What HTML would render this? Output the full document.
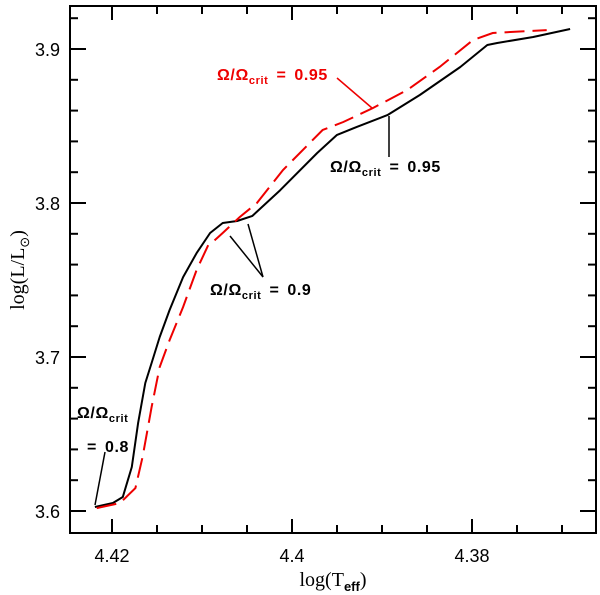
<!DOCTYPE html>
<html><head><meta charset="utf-8"><style>
html,body{margin:0;padding:0;background:#fff;}
svg{display:block;font-family:"Liberation Sans",sans-serif;}
</style></head><body>
<svg id="chart" width="600" height="595" viewBox="0 0 600 595">
<rect x="70" y="6" width="526" height="527" fill="none" stroke="#000" stroke-width="2"/>
<g id="ticks"></g>
<g id="series"></g>
<text x="333" y="586" font-size="20" font-family="Liberation Serif,serif" text-anchor="middle">log(T<tspan font-size="13" font-weight="bold" font-family="Liberation Sans,sans-serif" dy="5">eff</tspan><tspan dy="-5">)</tspan></text>
<text transform="translate(24,270) rotate(-90)" font-size="20" font-family="Liberation Serif,serif" text-anchor="middle">log(L/L<tspan font-size="13" dy="5">⊙</tspan><tspan dy="-5">)</tspan></text>
<g font-size="16" font-weight="bold" letter-spacing="0.6">
<text x="217" y="80" fill="#e00">Ω/Ω<tspan font-size="11" dy="4">crit</tspan><tspan dy="-4" dx="8">=</tspan><tspan dx="8">0.95</tspan></text>
<line x1="337" y1="78" x2="372" y2="108" stroke="#e00" stroke-width="1.5"/>
<text x="330" y="172" fill="#000">Ω/Ω<tspan font-size="11" dy="4">crit</tspan><tspan dy="-4" dx="8">=</tspan><tspan dx="8">0.95</tspan></text>
<line x1="389" y1="116" x2="389" y2="157" stroke="#000" stroke-width="1.5"/>
<text x="210" y="295" fill="#000">Ω/Ω<tspan font-size="11" dy="4">crit</tspan><tspan dy="-4" dx="8">=</tspan><tspan dx="8">0.9</tspan></text>
<line x1="263" y1="277" x2="230" y2="236" stroke="#000" stroke-width="1.5"/>
<line x1="263" y1="277" x2="248" y2="224" stroke="#000" stroke-width="1.5"/>
<text x="77" y="418" fill="#000">Ω/Ω<tspan font-size="11" dy="4">crit</tspan></text>
<text x="87" y="452" fill="#000">=<tspan dx="8">0.8</tspan></text>
<line x1="95" y1="505" x2="105" y2="452" stroke="#000" stroke-width="1.5"/>
</g>
</svg>
<script>
const blackX=[4.4219,4.4199,4.4188,4.4178,4.4171,4.4163,4.4156,4.4147,4.4136,4.4121,4.4106,4.4091,4.4077,4.4061,4.4044,4.4013,4.3972,4.3950,4.3928,4.3894,4.3858,4.3813,4.3783,4.3772,4.3732,4.3691];
const blackY=[3.6026,3.6052,3.6091,3.6286,3.6571,3.6831,3.6961,3.7130,3.7305,3.7519,3.7675,3.7805,3.7870,3.7883,3.7916,3.8084,3.8325,3.8442,3.8494,3.8571,3.8701,3.8883,3.9026,3.9039,3.9078,3.9130];
const redX=[4.4217,4.4191,4.4174,4.4166,4.4156,4.4147,4.4136,4.4121,4.4106,4.4093,4.4088,4.4077,4.4058,4.4039,4.4010,4.3966,4.3943,4.3910,4.3872,4.3836,4.3799,4.3777,4.3717];
const redY=[3.6019,3.6052,3.6149,3.6351,3.6675,3.6935,3.7110,3.7325,3.7565,3.7727,3.7747,3.7805,3.7909,3.8000,3.8214,3.8474,3.8526,3.8617,3.8734,3.8883,3.9058,3.9104,3.9123];
const xTickLabels=["4.42","4.4","4.38"];
const xTickValues=[4.42,4.40,4.38];
const yTickLabels=["3.6","3.7","3.8","3.9"];
const yTickValues=[3.6,3.7,3.8,3.9];
const NS="http://www.w3.org/2000/svg";
function sx(v){return 112+(4.42-v)*9000;}
function sy(v){return 511-(v-3.6)*1540;}
function mk(t,a){const e=document.createElementNS(NS,t);for(const k in a)e.setAttribute(k,a[k]);return e;}
const ticks=document.getElementById('ticks');
for(let i=-1;i<=11;i++){const v=4.42-i*0.005;const x=sx(v);if(x<71||x>595)continue;
 const major=i%4===0;
 const L=major?14:8;
 const t1=mk('line',{x1:x,y1:533,x2:x,y2:533-L,stroke:'#000','stroke-width':2});
 
 
 ticks.appendChild(t1);
 const t2=mk('line',{x1:x,y1:6,x2:x,y2:6+L,stroke:'#000','stroke-width':2});
 
 
 ticks.appendChild(t2);}
xTickValues.forEach((v,i)=>{const t=mk('text',{x:sx(v),y:562,'font-size':18,'text-anchor':'middle'});t.textContent=xTickLabels[i];
 
 
 ticks.appendChild(t);});
for(let i=-1;i<=17;i++){const v=3.6+i*0.02;const y=sy(v);if(y<7||y>532)continue;
 const major=i%5===0;const L=major?16:8;
 const t1=mk('line',{x1:70,y1:y,x2:70+L,y2:y,stroke:'#000','stroke-width':2});
 
 
 ticks.appendChild(t1);
 const t2=mk('line',{x1:596,y1:y,x2:596-L,y2:y,stroke:'#000','stroke-width':2});
 
 
 ticks.appendChild(t2);}
yTickValues.forEach((v,i)=>{const t=mk('text',{x:60,y:sy(v)+7,'font-size':18,'text-anchor':'end'});t.textContent=yTickLabels[i];
 
 
 ticks.appendChild(t);});
const series=document.getElementById('series');
function path(xs,ys){return xs.map((x,i)=>(i?'L':'M')+sx(x).toFixed(1)+','+sy(ys[i]).toFixed(1)).join(' ');}
const b=mk('path',{d:path(blackX,blackY),fill:'none',stroke:'#000','stroke-width':2,'stroke-linejoin':'round'});


series.appendChild(b);
const r=mk('path',{d:path(redX,redY),fill:'none',stroke:'#e00','stroke-width':2,'stroke-dasharray':'20 8'});


series.appendChild(r);
</script>
</body></html>
